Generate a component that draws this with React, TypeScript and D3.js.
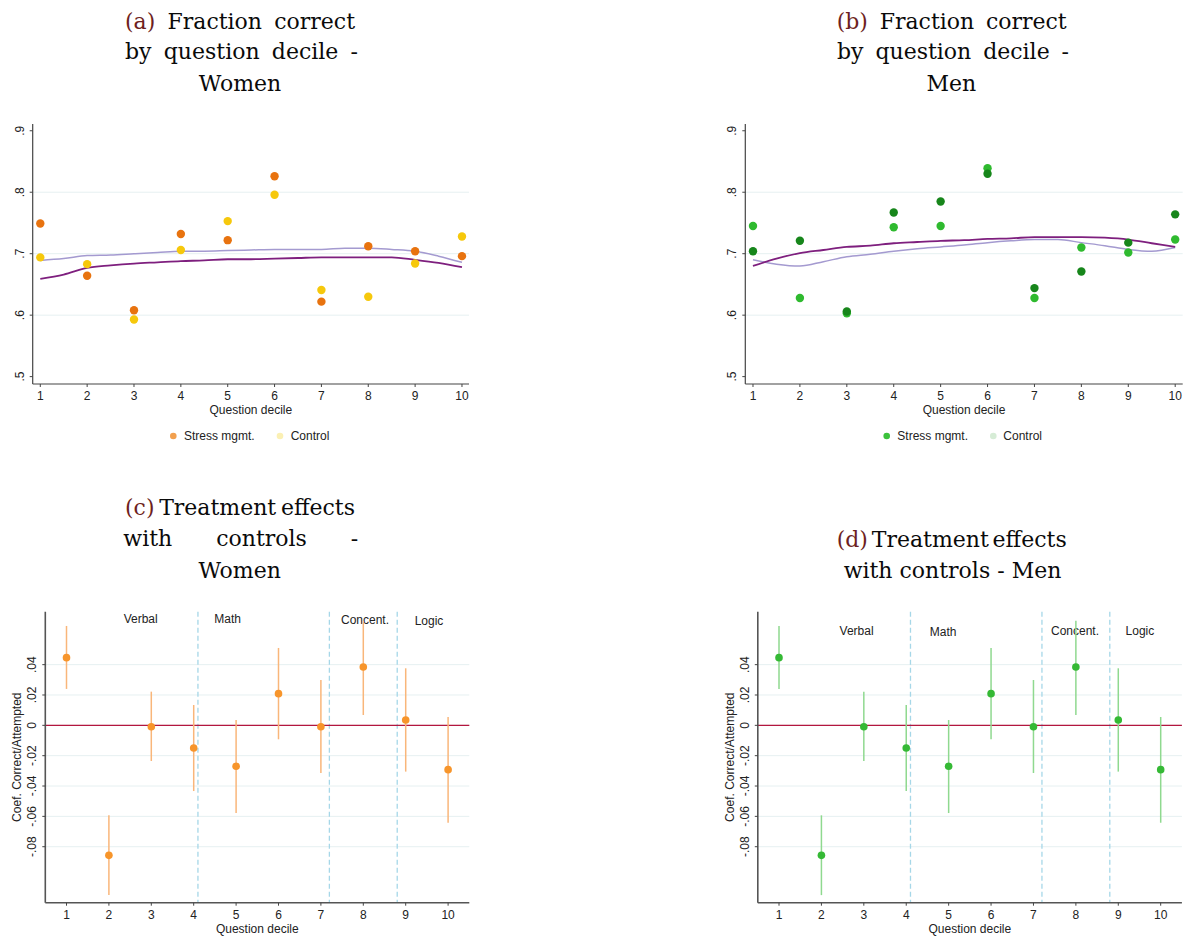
import React from 'react';
import * as d3 from 'd3';

// ---------------- data ----------------
const deciles = [1, 2, 3, 4, 5, 6, 7, 8, 9, 10];

// Panel (a) women: fraction correct
const womenStress = [0.749, 0.664, 0.608, 0.732, 0.722, 0.826, 0.622, 0.712, 0.704, 0.696];
const womenControl = [0.694, 0.683, 0.593, 0.706, 0.753, 0.796, 0.641, 0.630, 0.684, 0.728];

// Panel (b) men: fraction correct
const menStress = [0.704, 0.721, 0.606, 0.767, 0.785, 0.830, 0.644, 0.671, 0.718, 0.764];
const menControl = [0.745, 0.628, 0.603, 0.743, 0.745, 0.839, 0.628, 0.710, 0.702, 0.723];

// smoothed fit lines read at half-decile steps
const fitX = [1, 1.5, 2, 2.5, 3, 3.5, 4, 4.5, 5, 5.5, 6, 6.5, 7, 7.5, 8, 8.5, 9, 9.5, 10];
const womenFitA = [0.659, 0.666, 0.677, 0.681, 0.684, 0.686, 0.688, 0.689, 0.691, 0.691, 0.692, 0.693, 0.694, 0.694, 0.694, 0.694, 0.690, 0.685, 0.678];
const womenFitB = [0.689, 0.692, 0.697, 0.698, 0.700, 0.702, 0.704, 0.704, 0.705, 0.706, 0.707, 0.707, 0.707, 0.709, 0.709, 0.707, 0.704, 0.696, 0.686];
const menFitA = [0.680, 0.692, 0.701, 0.706, 0.711, 0.713, 0.717, 0.719, 0.721, 0.722, 0.724, 0.725, 0.727, 0.727, 0.727, 0.726, 0.723, 0.717, 0.711];
const menFitB = [0.690, 0.683, 0.680, 0.687, 0.695, 0.699, 0.704, 0.708, 0.711, 0.714, 0.718, 0.721, 0.723, 0.723, 0.718, 0.713, 0.707, 0.704, 0.710];

// Panels (c)/(d): treatment effects with controls
const coefWomen = [0.0446, -0.0857, -0.0009, -0.0149, -0.0270, 0.0209, -0.0009, 0.0385, 0.0035, -0.0292];
const ciLowWomen = [0.0240, -0.1119, -0.0235, -0.0433, -0.0578, -0.0092, -0.0314, 0.0068, -0.0305, -0.0642];
const ciHighWomen = [0.0655, -0.0593, 0.0222, 0.0134, 0.0035, 0.0510, 0.0299, 0.0690, 0.0376, 0.0055];
const coefMen = [0.0446, -0.0857, -0.0009, -0.0149, -0.0270, 0.0209, -0.0009, 0.0385, 0.0035, -0.0292];
const ciLowMen = [0.0240, -0.1119, -0.0235, -0.0433, -0.0578, -0.0092, -0.0314, 0.0068, -0.0305, -0.0642];
const ciHighMen = [0.0655, -0.0593, 0.0222, 0.0134, 0.0035, 0.0510, 0.0299, 0.0690, 0.0376, 0.0055];

const sectionBreaks = [4.1, 7.2, 8.8];
const sectionLabels = ['Verbal', 'Math', 'Concent.', 'Logic'];
const sectionLabelXWomen = [2.75, 4.8, 8.04, 9.55];
const sectionLabelYWomen = [0.070, 0.070, 0.0695, 0.069];
const sectionLabelXMen = [2.83, 4.87, 7.98, 9.51];
const sectionLabelYMen = [0.0624, 0.0617, 0.0624, 0.0624];

const yTicksFrac = [0.5, 0.6, 0.7, 0.8, 0.9];
const yGridFrac = [0.6, 0.7, 0.8];
const yTicksCoef = [-0.08, -0.06, -0.04, -0.02, 0, 0.02, 0.04];
const fmtFrac = (v: number) => String(v).replace(/^0/, '');
const fmtCoef = (v: number) => (v === 0 ? '0' : (v < 0 ? '-' : '') + String(Math.abs(v)).replace(/^0/, ''));

const legendLabels = ['Stress mgmt.', 'Control'];
const xTitle = 'Question decile';
const yTitleCoef = 'Coef. Correct/Attempted';

const titleA = { label: '(a)', lines: ['Fraction correct', 'by question decile -', 'Women'] };
const titleB = { label: '(b)', lines: ['Fraction correct', 'by question decile -', 'Men'] };
const titleC = { label: '(c)', lines: ['Treatment effects', 'with controls -', 'Women'] };
const titleD = { label: '(d)', lines: ['Treatment effects', 'with controls - Men'] };

// ---------------- styles ----------------
const SANS = '"Liberation Sans", Arial, Helvetica, sans-serif';
const SERIF = '"DejaVu Serif", serif';
const TITLE_SIZE = 22;
const TEXT = '#222';
const GRID = '#e6f0f1';
const TITLE_INK = '#0a0a0a';
const LABEL_INK = '#6e1f22';

let _ctx: CanvasRenderingContext2D | null = null;
function measure(t: string, font: string): number {
  if (!_ctx) _ctx = document.createElement('canvas').getContext('2d');
  _ctx!.font = font;
  return _ctx!.measureText(t).width;
}

type LineLayout = { x0: number; x1: number; y: number; mode: 'justify' | 'center' };

function Title({ label, lines, layout }: { label: string; lines: string[]; layout: LineLayout[] }) {
  const font = `${TITLE_SIZE}px ${SERIF}`;
  const out: React.ReactNode[] = [];
  lines.forEach((ln, i) => {
    const L = layout[i];
    const words = (i === 0 ? [label] : []).concat(ln.split(' '));
    if (L.mode === 'center') {
      out.push(
        <text key={i} x={(L.x0 + L.x1) / 2} y={L.y} textAnchor="middle" fontFamily={SERIF} fontSize={TITLE_SIZE} fill={TITLE_INK}>
          {words.map((w, k) => (
            <tspan key={k} fill={i === 0 && k === 0 ? LABEL_INK : TITLE_INK}>{(k > 0 ? ' ' : '') + w}</tspan>
          ))}
        </text>
      );
    } else {
      const widths = words.map((w) => measure(w, font));
      const total = widths.reduce((a, b) => a + b, 0);
      const gap = words.length > 1 ? (L.x1 - L.x0 - total) / (words.length - 1) : 0;
      let x = L.x0;
      words.forEach((w, k) => {
        out.push(
          <text key={`${i}-${k}`} x={x} y={L.y} fontFamily={SERIF} fontSize={TITLE_SIZE} fill={i === 0 && k === 0 ? LABEL_INK : TITLE_INK}>
            {w}
          </text>
        );
        x += widths[k] + gap;
      });
    }
  });
  return <g>{out}</g>;
}

type Box = { left: number; right: number; top: number; bottom: number };

function FracPanel({
  box, xDomain, stress, control, fitA, fitB, stressColor, controlColor, legStress, legControl,
  yLabelX, legendX, legendY,
}: {
  box: Box; xDomain: [number, number]; stress: number[]; control: number[]; fitA: number[]; fitB: number[];
  stressColor: string; controlColor: string; legStress: string; legControl: string; yLabelX: number; legendX: number[]; legendY: number;
}) {
  const x = d3.scaleLinear().domain(xDomain).range([box.left, box.right]);
  const y = d3.scaleLinear().domain([0.488, 0.911]).range([box.bottom, box.top]);
  const line = d3.line<number>().x((_, i) => x(fitX[i])).y((d) => y(d)).curve(d3.curveMonotoneX);
  return (
    <g>
      {yGridFrac.map((t) => (
        <line key={t} x1={box.left} x2={box.right} y1={y(t)} y2={y(t)} stroke={GRID} strokeWidth={1} />
      ))}
      <line x1={box.left} x2={box.left} y1={box.top} y2={box.bottom} stroke="#444" strokeWidth={1.2} />
      <line x1={box.left} x2={box.right} y1={box.bottom} y2={box.bottom} stroke="#444" strokeWidth={1.2} />
      {yTicksFrac.map((t) => (
        <g key={t}>
          <line x1={box.left - 3} x2={box.left} y1={y(t)} y2={y(t)} stroke="#444" />
          <text transform={`translate(${yLabelX},${y(t)}) rotate(-90)`} textAnchor="middle" dy="0.35em" fontFamily={SANS} fontSize={12} fill={TEXT}>
            {fmtFrac(t)}
          </text>
        </g>
      ))}
      {deciles.map((d) => (
        <g key={d}>
          <line x1={x(d)} x2={x(d)} y1={box.bottom} y2={box.bottom + 3} stroke="#444" />
          <text x={x(d)} y={box.bottom + 16} textAnchor="middle" fontFamily={SANS} fontSize={12} fill={TEXT}>{d}</text>
        </g>
      ))}
      <text x={(box.left + box.right) / 2} y={box.bottom + 30} textAnchor="middle" fontFamily={SANS} fontSize={12} fill={TEXT}>{xTitle}</text>
      <path d={line(fitB) || ''} fill="none" stroke="#a49ad0" strokeWidth={1.5} />
      <path d={line(fitA) || ''} fill="none" stroke="#7e1f7e" strokeWidth={1.8} />
      {control.map((v, i) => (
        <circle key={`c${i}`} cx={x(deciles[i])} cy={y(v)} r={4.2} fill={controlColor} />
      ))}
      {stress.map((v, i) => (
        <circle key={`s${i}`} cx={x(deciles[i])} cy={y(v)} r={4.2} fill={stressColor} />
      ))}
      <circle cx={legendX[0]} cy={legendY} r={3.3} fill={legStress} />
      <text x={legendX[1]} y={legendY} dy="0.35em" fontFamily={SANS} fontSize={12} fill={TEXT}>{legendLabels[0]}</text>
      <circle cx={legendX[2]} cy={legendY} r={3.3} fill={legControl} />
      <text x={legendX[3]} y={legendY} dy="0.35em" fontFamily={SANS} fontSize={12} fill={TEXT}>{legendLabels[1]}</text>
    </g>
  );
}

function CoefPanel({
  box, coef, lo, hi, pointColor, barColor, labelX, labelY, tickLabelX, titleX,
}: {
  box: Box; coef: number[]; lo: number[]; hi: number[]; pointColor: string; barColor: string;
  labelX: number[]; labelY: number[]; tickLabelX: number; titleX: number;
}) {
  const x = d3.scaleLinear().domain([0.5, 10.5]).range([box.left, box.right]);
  const y = d3.scaleLinear().domain([-0.1169, 0.0749]).range([box.bottom, box.top]);
  return (
    <g>
      {yTicksCoef.map((t) => (
        <line key={t} x1={box.left} x2={box.right} y1={y(t)} y2={y(t)} stroke={GRID} strokeWidth={1} />
      ))}
      {sectionBreaks.map((b) => (
        <line key={b} x1={x(b)} x2={x(b)} y1={box.top} y2={box.bottom} stroke="#a6d7e8" strokeWidth={1.3} strokeDasharray="5,3" />
      ))}
      <line x1={box.left} x2={box.right} y1={y(0)} y2={y(0)} stroke="#b3163f" strokeWidth={1.4} />
      <line x1={box.left} x2={box.left} y1={box.top} y2={box.bottom} stroke="#555" strokeWidth={1.6} />
      <line x1={box.left} x2={box.right} y1={box.bottom} y2={box.bottom} stroke="#555" strokeWidth={1.6} />
      {yTicksCoef.map((t) => (
        <g key={t}>
          <line x1={box.left - 3} x2={box.left} y1={y(t)} y2={y(t)} stroke="#444" />
          <text transform={`translate(${tickLabelX},${y(t)}) rotate(-90)`} textAnchor="middle" dy="0.35em" fontFamily={SANS} fontSize={12} fill={TEXT}>
            {fmtCoef(t)}
          </text>
        </g>
      ))}
      <text transform={`translate(${titleX},${y(-0.021)}) rotate(-90)`} textAnchor="middle" dy="0.35em" fontFamily={SANS} fontSize={12} fill={TEXT}>
        {yTitleCoef}
      </text>
      {deciles.map((d) => (
        <g key={d}>
          <line x1={x(d)} x2={x(d)} y1={box.bottom} y2={box.bottom + 3} stroke="#444" />
          <text x={x(d)} y={box.bottom + 16} textAnchor="middle" fontFamily={SANS} fontSize={12} fill={TEXT}>{d}</text>
        </g>
      ))}
      <text x={(box.left + box.right) / 2} y={box.bottom + 30} textAnchor="middle" fontFamily={SANS} fontSize={12} fill={TEXT}>{xTitle}</text>
      {sectionLabels.map((s, i) => (
        <text key={s} x={x(labelX[i])} y={y(labelY[i])} dy="0.35em" textAnchor="middle" fontFamily={SANS} fontSize={12} fill={TEXT}>{s}</text>
      ))}
      {coef.map((c, i) => (
        <g key={i}>
          <line x1={x(deciles[i])} x2={x(deciles[i])} y1={y(lo[i])} y2={y(hi[i])} stroke={barColor} strokeWidth={1.5} />
          <circle cx={x(deciles[i])} cy={y(c)} r={3.8} fill={pointColor} />
        </g>
      ))}
    </g>
  );
}

export default function App() {
  return (
    <svg width={1192} height={947} style={{ position: 'absolute', left: 0, top: 0, background: '#fff' }}>
      <rect width={1192} height={947} fill="#fff" />
      <Title label={titleA.label} lines={titleA.lines} layout={[
        { x0: 125, x1: 355, y: 28.5, mode: 'justify' },
        { x0: 125, x1: 358, y: 59, mode: 'justify' },
        { x0: 197, x1: 283, y: 91, mode: 'center' },
      ]} />
      <Title label={titleB.label} lines={titleB.lines} layout={[
        { x0: 836.7, x1: 1066.7, y: 28.5, mode: 'justify' },
        { x0: 837, x1: 1069, y: 59, mode: 'justify' },
        { x0: 926.7, x1: 976, y: 91, mode: 'center' },
      ]} />
      <Title label={titleC.label} lines={titleC.lines} layout={[
        { x0: 125, x1: 355, y: 514.5, mode: 'justify' },
        { x0: 123.3, x1: 358.3, y: 546, mode: 'justify' },
        { x0: 196.7, x1: 282.7, y: 577.7, mode: 'center' },
      ]} />
      <Title label={titleD.label} lines={titleD.lines} layout={[
        { x0: 836.7, x1: 1066.7, y: 546.5, mode: 'justify' },
        { x0: 843.3, x1: 1061.7, y: 578, mode: 'center' },
      ]} />

      <FracPanel
        box={{ left: 32.7, right: 469, top: 124, bottom: 384 }}
        xDomain={[0.838, 10.15]}
        stress={womenStress} control={womenControl} fitA={womenFitA} fitB={womenFitB}
        stressColor="#e8730f" controlColor="#f6c80c" legStress="#f2a04e" legControl="#fbf0b4"
        yLabelX={20} legendX={[173.3, 184, 280, 290.7]} legendY={436}
      />
      <FracPanel
        box={{ left: 745.3, right: 1182.7, top: 124, bottom: 384 }}
        xDomain={[0.836, 10.16]}
        stress={menStress} control={menControl} fitA={menFitA} fitB={menFitB}
        stressColor="#17861b" controlColor="#2fba2f" legStress="#3cc23c" legControl="#d6ecd6"
        yLabelX={731.7} legendX={[886.7, 897.3, 993.3, 1003.3]} legendY={436}
      />
      <CoefPanel
        box={{ left: 45.3, right: 469.3, top: 611.7, bottom: 902.7 }}
        coef={coefWomen} lo={ciLowWomen} hi={ciHighWomen}
        pointColor="#f7952b" barColor="#f9b67a"
        labelX={sectionLabelXWomen} labelY={sectionLabelYWomen}
        tickLabelX={31.7} titleX={16.7}
      />
      <CoefPanel
        box={{ left: 757.8, right: 1181.9, top: 611.7, bottom: 902.7 }}
        coef={coefMen} lo={ciLowMen} hi={ciHighMen}
        pointColor="#35b935" barColor="#8fd98f"
        labelX={sectionLabelXMen} labelY={sectionLabelYMen}
        tickLabelX={744.3} titleX={729.3}
      />
    </svg>
  );
}
